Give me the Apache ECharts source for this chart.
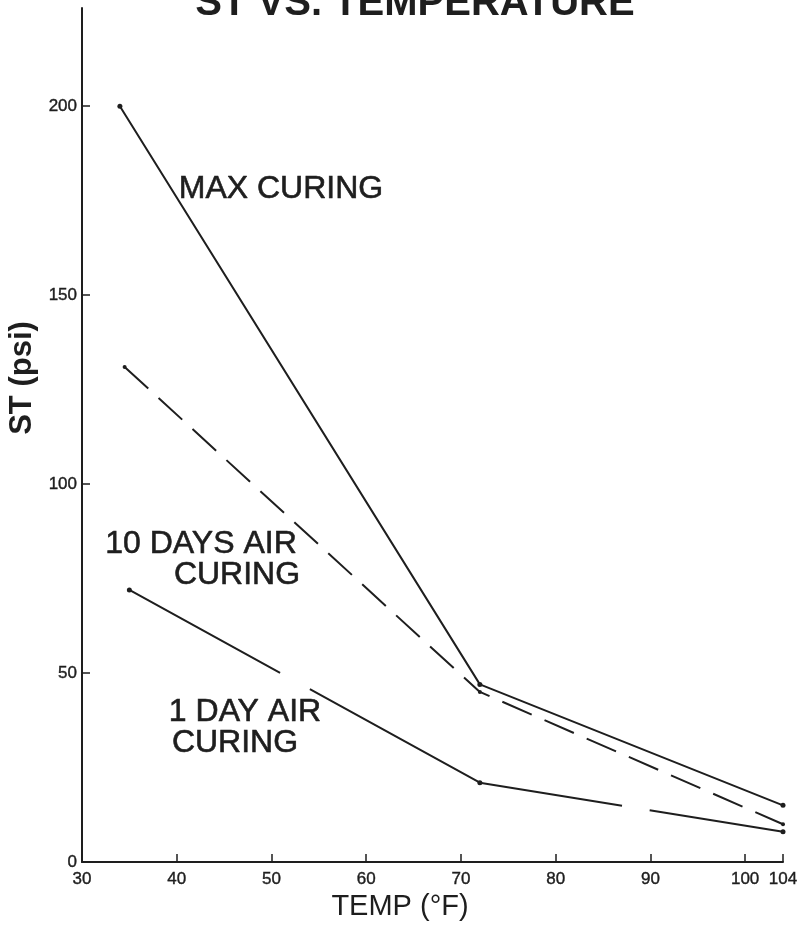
<!DOCTYPE html>
<html>
<head>
<meta charset="utf-8">
<script src="https://cdn.jsdelivr.net/npm/echarts@6/dist/echarts.min.js"></script>
<style>html,body{margin:0;padding:0;background:#fff}#c{width:802px;height:945px}</style>
</head>
<body>
<div id="c"></div>
<script>
var titleText = 'ST VS. TEMPERATURE';
var xName = 'TEMP (°F)';
var yName = 'ST (psi)';
var xTicks = [30, 40, 50, 60, 70, 80, 90, 100, 104];
var yTicks = [0, 50, 100, 150, 200];
var maxCuring = [[34, 200], [72, 47], [104, 15]];
var tenDaysAir = [[34.5, 131], [72, 45], [104, 10]];
var oneDayAir = [[35, 72], [72, 21], [104, 8]];
var labelMax = ['MAX CURING'];
var labelTen = ['10 DAYS AIR', 'CURING'];
var labelOne = ['1 DAY AIR', 'CURING'];

var ink = '#1e1e1e';
var font = '"Liberation Sans", Arial, sans-serif';
var chart = echarts.init(document.getElementById('c'), null, {renderer: 'canvas'});

function txt(t, x, y, size, weight, strokeW, extra) {
  var el = {type: 'text', x: x, y: y, z: 10,
    style: {text: t, fill: ink, font: (weight || 'normal') + ' ' + size + 'px ' + font,
      align: 'center', verticalAlign: 'middle', stroke: ink, lineWidth: strokeW}};
  if (extra) { for (var k in extra) el[k] = extra[k]; }
  return el;
}

chart.setOption({
  animation: false,
  backgroundColor: '#fff',
  grid: {left: 82, right: 19, top: 8, bottom: 83, containLabel: false},
  xAxis: {
    type: 'value', min: 30, max: 104, interval: 10,
    splitLine: {show: false},
    axisLine: {lineStyle: {color: ink, width: 2}},
    axisTick: {inside: true, length: 8, lineStyle: {color: ink, width: 1.5}, customValues: xTicks},
    axisLabel: {customValues: xTicks, color: ink, fontFamily: font, fontSize: 17, margin: 9,
      textBorderColor: ink, textBorderWidth: 0.4}
  },
  yAxis: {
    type: 'value', min: 0, max: 226, interval: 50,
    splitLine: {show: false},
    axisLine: {lineStyle: {color: ink, width: 2}},
    axisTick: {inside: true, length: 8, lineStyle: {color: ink, width: 1.5}, customValues: yTicks},
    axisLabel: {customValues: yTicks, color: ink, fontFamily: font, fontSize: 17, margin: 5,
      textBorderColor: ink, textBorderWidth: 0.4}
  },
  series: [
    {name: 'MAX CURING', type: 'line', data: maxCuring, symbol: 'circle', symbolSize: 5,
      itemStyle: {color: ink}, lineStyle: {color: ink, width: 2}},
    {name: '10 DAYS AIR CURING', type: 'line', data: tenDaysAir, symbol: 'circle', symbolSize: 4,
      itemStyle: {color: ink}, lineStyle: {color: ink, width: 2, type: [32, 14]}},
    {name: '1 DAY AIR CURING', type: 'line', data: oneDayAir, symbol: 'circle', symbolSize: 5,
      itemStyle: {color: ink}, lineStyle: {color: ink, width: 2, type: [172, 34, 338, 28, 400]}}
  ],
  graphic: [
    txt(titleText, 415, 4, 40, 'bold', 0),
    txt(yName, 22, 378, 31, 'bold', 0, {rotation: Math.PI / 2}),
    txt(xName, 400, 907, 29, 'normal', 0),
    txt(labelMax[0], 281, 189, 32, 'normal', 0.6),
    txt(labelTen[0], 201, 544, 32, 'normal', 0.6),
    txt(labelTen[1], 237, 575, 32, 'normal', 0.6),
    txt(labelOne[0], 245, 712, 32, 'normal', 0.6),
    txt(labelOne[1], 235, 743, 32, 'normal', 0.6)
  ]
});
</script>
</body>
</html>
